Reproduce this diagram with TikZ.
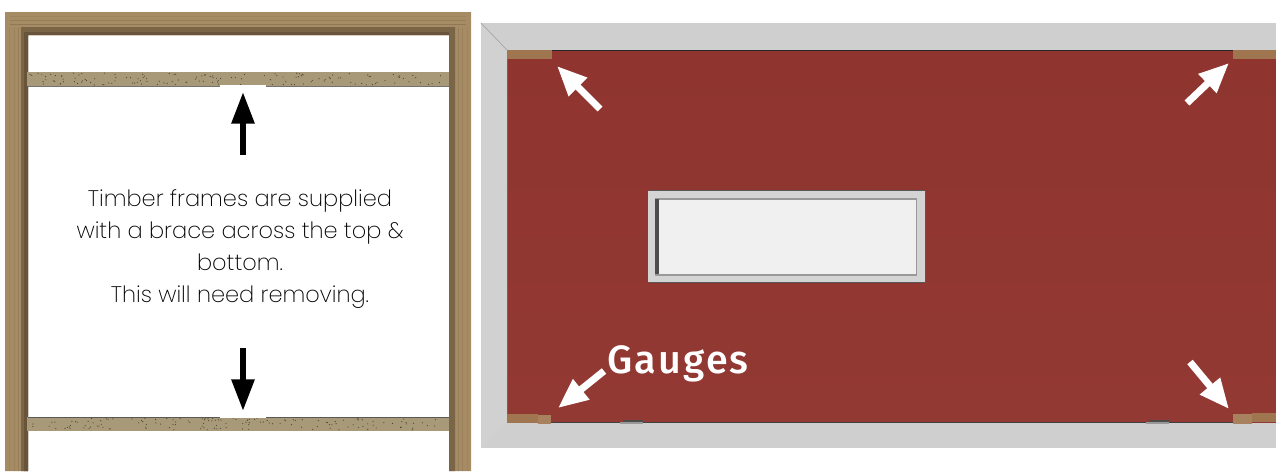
\documentclass[tikz,border=0pt]{standalone}
\usepackage{xcolor}
\usepackage{fontspec}
\setmainfont{Poppins ExtraLight}
\newfontfamily\gaugefont[LetterSpace=5.5]{Fira Sans Medium}
\definecolor{woodlight}{RGB}{166, 140, 100}
\definecolor{wooddark}{RGB}{104, 84, 58}
\definecolor{boardtan}{RGB}{168, 153, 120}
\definecolor{doorred}{RGB}{143, 52, 47}
\definecolor{doorredlow}{RGB}{147, 57, 52}
\definecolor{framegray}{RGB}{207, 207, 207}
\definecolor{gaugebrown}{RGB}{160, 118, 80}
\definecolor{glasswhite}{RGB}{240, 240, 240}
\usetikzlibrary{arrows.meta}
\tikzset{
  blackarrow/.style={draw=black, line width=3.4pt, -{Triangle[length=18pt, width=12.5pt]}},
  whitearrow/.style={draw=white, line width=4pt, -{Triangle[length=17pt, width=14pt]}},
  gaugeblock/.style={fill=gaugebrown, draw=none},
  hingeplate/.style={fill=black!70, draw=none},
  notetext/.style={font=\fontsize{12.8}{18.2}\selectfont, text=black, align=center},
}
\begin{document}
\begin{tikzpicture}[x=0.02cm, y=-0.02cm]
  \useasboundingbox (0,0) rectangle (1276,471);
  % Timber frame
  \fill[woodlight] (5,471) -- (5,12) -- (471,12) -- (471,471) -- (449,471) -- (449,35) -- (28,35) -- (28,471) -- cycle;
  \fill[wooddark!70!woodlight] (21,471) -- (21,27) -- (455,27) -- (455,471) -- (449,471) -- (449,35) -- (28,35) -- (28,471) -- cycle;
  \fill[wooddark] (24,471) -- (24,32) -- (449,32) -- (449,35) -- (28,35) -- (28,471) -- cycle;
  % Grain
  \foreach \gy/\gs in {16/15, 20/25, 24/35} {
    \draw[wooddark!\gs!woodlight, thin] (10,\gy) -- (466,\gy);
  }
  \foreach \gx/\gs in {9/12, 14/20, 18/25} {
    \draw[wooddark!\gs!woodlight, thin] (\gx,28) -- (\gx,471);
    \draw[wooddark!\gs!woodlight, thin] (476-\gx,28) -- (476-\gx,471);
  }
  % Braces
  \pgfmathsetseed{7}
  \foreach \by in {72,417} {
    \fill[boardtan] (27,\by) rectangle (449,\by+14);
    \foreach \sp in {1,...,140} {
      \pgfmathsetmacro{\sx}{30+416*rnd}
      \pgfmathsetmacro{\sy}{\by+1+12*rnd}
      \fill[black!55!boardtan] (\sx,\sy) circle (0.6);
    }
  }
  \draw[black!55, thin] (28,86) -- (449,86);
  \draw[black!65, thin] (28,417) -- (449,417);
  \fill[white] (220,85) rectangle (266,87);
  \fill[white] (220,416) rectangle (266,418);
  % Note and its arrows
  \node[notetext] (note) at (240,249) {Timber frames are supplied\\with a brace across the top \&\\bottom.\\This will need removing.};
  \coordinate (uptail) at (243,155);
  \coordinate (uptip) at (243,92);
  \coordinate (downtail) at (243,348);
  \coordinate (downtip) at (243,411);
  \draw[blackarrow] (uptail) -- (uptip);
  \draw[blackarrow] (downtail) -- (downtip);
  % Door frame
  \fill[framegray] (481,23) rectangle (1276,448);
  \fill[framegray!96!white] (481,23) -- (507,50) -- (507,422) -- (481,448) -- cycle;
  \draw[black!35, thin] (481,23) -- (507,50);
  % Door leaf
  \fill[top color=doorred, bottom color=doorredlow] (507,50) rectangle (1276,422);
  \draw[black!85, thin] (552,50) -- (1233,50);
  \draw[black!75, thin] (507,422) -- (1233,422);
  \draw[black!60, thin] (507.3,50) -- (507.3,422);
  % Gauges
  \fill[gaugeblock] (507,50) rectangle (552,59);
  \fill[gaugeblock] (507,414) rectangle (538,423);
  \fill[gaugebrown!92!white] (538,414.5) rectangle (551,424);
  \fill[gaugeblock] (1233,50) rectangle (1276,59);
  \fill[gaugebrown!92!white] (1233,414) rectangle (1252,424);
  \fill[gaugeblock] (1252,413) rectangle (1276,422);
  % Hinge plates
  \foreach \hx in {620,1146} {
    \fill[hingeplate] (\hx+3,420) rectangle (\hx+23,422);
    \fill[black!40] (\hx,422) rectangle (\hx+23,424);
  }
  % Window
  \fill[black!65] (649,190) rectangle (926,283);
  \fill[doorred] (648,283) rectangle (926,284);
  \fill[framegray!90!white] (648,191) rectangle (925,282);
  \fill[black!40] (655,198) rectangle (917,276);
  \fill[glasswhite] (659,199.5) rectangle (916,274);
  \fill[black!70] (655,199) rectangle (659,274);
  % Gauge arrows
  \coordinate (tltail) at (600,109);
  \coordinate (tltip) at (557,66);
  \coordinate (trtail) at (1187,103);
  \coordinate (trtip) at (1229,63);
  \coordinate (bltail) at (604,371);
  \coordinate (bltip) at (558,408);
  \coordinate (brtail) at (1190,362);
  \coordinate (brtip) at (1229,409);
  \draw[whitearrow] (tltail) -- (tltip);
  \draw[whitearrow] (trtail) -- (trtip);
  \draw[whitearrow] (bltail) -- (bltip);
  \draw[whitearrow] (brtail) -- (brtip);
  \node[font=\gaugefont\fontsize{22.5}{24}\selectfont, text=white] (gauges) at (678,364) {Gauges};
\end{tikzpicture}
\end{document}
